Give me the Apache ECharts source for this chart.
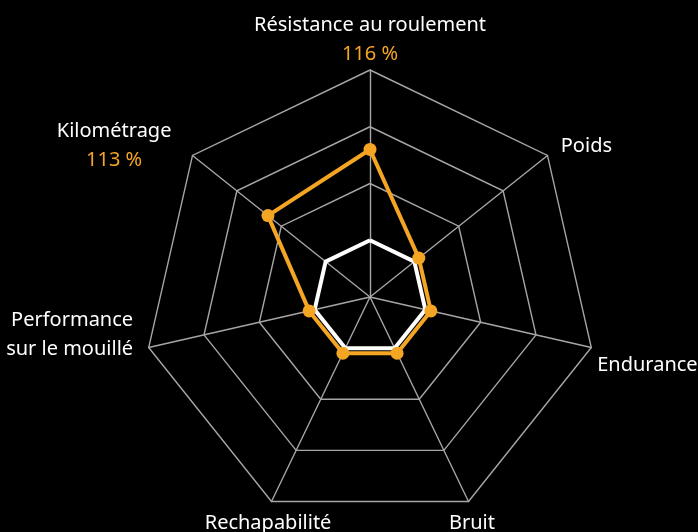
<!DOCTYPE html>
<html>
<head>
<meta charset="utf-8">
<script src="https://cdn.jsdelivr.net/npm/echarts@6/dist/echarts.min.js"></script>
<style>
  html, body { margin: 0; padding: 0; background: #000; }
  #main { width: 698px; height: 532px; }
</style>
</head>
<body>
<div id="main"></div>
<script>
// axes, counterclockwise from the top
var criteria = ['Résistance au roulement', 'Kilométrage', 'Performance\nsur le mouillé', 'Rechapabilité', 'Bruit', 'Endurance', 'Poids'];
var valueLabels = ['116 %', '113 %', '', '', '', '', ''];
var reference = [100, 100, 100, 100, 100, 100, 100];
var current = [116, 113, 101, 101, 101, 101, 101];
var scaleMin = 90;
var scaleMax = 130;

var orange = '#f5a524';
var grid = '#a6a6a6';

// label placement per axis
var nameLayout = [
    { gap: 1 },
    { gap: 18, align: 'right', verticalAlign: 'middle', padding: [4, 7, 0, 0] },
    { gap: 16, align: 'right', verticalAlign: 'middle', padding: [0, 0, 32, 0] },
    { gap: 8, align: 'center', verticalAlign: 'top' },
    { gap: 8, align: 'center', verticalAlign: 'top' },
    { gap: 6, align: 'left', verticalAlign: 'top', padding: [2, 0, 0, 0] },
    { gap: 17, align: 'left', verticalAlign: 'middle', padding: [2, 0, 0, 0] }
];

var indicators = criteria.map(function (name, i) {
    var lay = nameLayout[i];
    var ts = {};
    if (lay.align) ts.align = lay.align;
    if (lay.verticalAlign) ts.verticalAlign = lay.verticalAlign;
    if (lay.padding) ts.padding = lay.padding;
    return { name: name, min: scaleMin, max: scaleMax, nameGap: lay.gap, nameTextStyle: ts };
});

var chart = echarts.init(document.getElementById('main'));

chart.setOption({
    backgroundColor: '#000',
    animation: false,
    radar: {
        center: [370, 297],
        radius: 227,
        splitNumber: 4,
        shape: 'polygon',
        indicator: indicators,
        axisName: {
            fontFamily: 'Noto Sans',
            fontSize: 20,
            color: '#fff',
            formatter: function (name) {
                var i = criteria.indexOf(name);
                var lines = name.split('\n').map(function (l) { return '{n|' + l + '}'; });
                if (valueLabels[i]) lines.push('{v|' + valueLabels[i] + '}');
                return lines.join('\n');
            },
            rich: {
                n: { color: '#fff', fontSize: 20, fontFamily: 'Noto Sans', lineHeight: 29 },
                v: { color: orange, fontSize: 20, fontFamily: 'Noto Sans', lineHeight: 29, align: 'center' }
            }
        },
        axisLine: { lineStyle: { color: grid, width: 1.4 } },
        splitLine: { lineStyle: { color: grid, width: 1.4 } },
        splitArea: { show: false }
    },
    series: [{
        type: 'radar',
        data: [
            {
                value: reference,
                symbol: 'none',
                lineStyle: { color: '#fff', width: 4 }
            },
            {
                value: current,
                symbol: 'circle',
                symbolSize: 13,
                itemStyle: { color: orange },
                lineStyle: { color: orange, width: 4 }
            }
        ]
    }]
});
</script>
</body>
</html>
